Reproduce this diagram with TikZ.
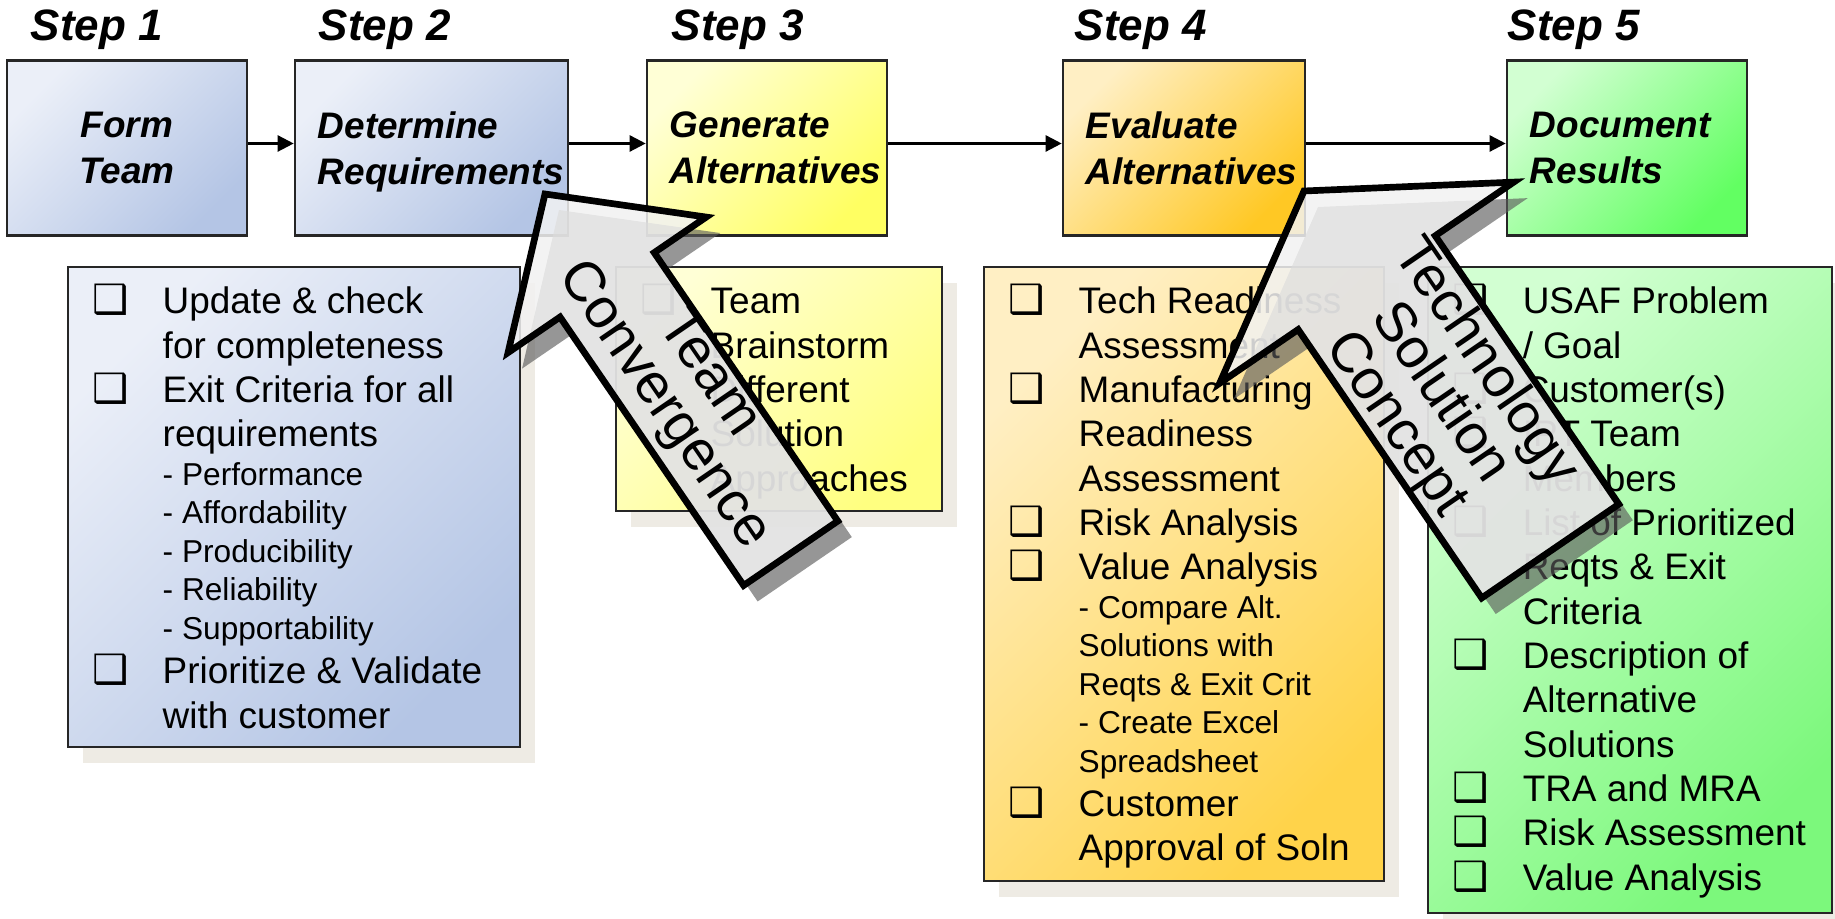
\documentclass[tikz,border=0pt]{standalone}
\usepackage{fontspec}
\setmainfont{Liberation Sans}
\newfontfamily\symfont{DejaVu Sans}
\usetikzlibrary{arrows.meta}
\hfuzz=40pt

\definecolor{blueA}{HTML}{EBEFF8}
\definecolor{blueB}{HTML}{B4C5E5}
\definecolor{yellowA}{HTML}{FFFFD6}
\definecolor{yellowB}{HTML}{FFFF62}
\definecolor{yellowC}{HTML}{FFFF80}
\definecolor{orangeA}{HTML}{FFEFC4}
\definecolor{orangeB}{HTML}{FFC824}
\definecolor{orangeC}{HTML}{FFD34A}
\definecolor{greenA}{HTML}{D2FFD2}
\definecolor{greenB}{HTML}{62FF62}
\definecolor{greenC}{HTML}{7CF87C}
\definecolor{shadowbeige}{HTML}{EEEBE4}

% list lines: check box, plain line, small line
\newcommand\listfont{\fontsize{10.5}{12.6}\selectfont}
\newcommand\subfont{\fontsize{9}{10.95}\selectfont}
\newcommand\chk{{\symfont\fontsize{11.5}{11.5}\selectfont ❑}}
\newcommand\chkline[1]{\par\leavevmode\makebox[0.7cm][l]{\chk}#1}
\newcommand\mline[1]{\par\leavevmode\hspace*{0.7cm}#1}
\newcommand\sline[1]{\par{\subfont\leavevmode\hspace*{0.7cm}#1\par}}

\tikzset{
  stepbox/.style={draw=black!85, line width=0.7pt, minimum height=1.75cm, inner sep=0pt,
    align=left, font=\bfseries\itshape\fontsize{10.5}{13}\selectfont},
  steplabel/.style={anchor=base west, inner sep=0pt, font=\bfseries\itshape\fontsize{12.5}{15}\selectfont},
  flow/.style={-{Triangle[length=1.6mm,width=1.6mm]}, line width=0.7pt},
  listbox/.style={draw=black!85, line width=0.7pt},
  listshadow/.style={fill=shadowbeige},
  listtext/.style={anchor=base west, inner sep=0pt, font=\listfont},
  arrowshadow/.style={fill=black!64, fill opacity=0.64},
  arrowbody/.style={draw=black, line width=1.9pt, fill=black!5, fill opacity=0.85},
  arrowtext/.style={rotate=-55.6, align=center, inner sep=0pt, font=\fontsize{16}{15.5}\selectfont},
  shadeblue/.style={top color=blueA, bottom color=blueB, shading angle=45},
  shadeyellow/.style={top color=yellowA, bottom color=yellowB, shading angle=45},
  shadeorange/.style={top color=orangeA, bottom color=orangeB, shading angle=45},
  shadegreen/.style={top color=greenA, bottom color=greenB, shading angle=45},
  listyellow/.style={top color=yellowA, bottom color=yellowC, shading angle=45},
  listorange/.style={top color=orangeA, bottom color=orangeC, shading angle=45},
  listgreen/.style={top color=greenA, bottom color=greenC, shading angle=45},
}

\begin{document}
\begin{tikzpicture}[x=0.01cm, y=-0.01cm]
\fill[white] (0,0) rectangle (1835,919);
\useasboundingbox (0,0) rectangle (1835,919);

% step titles
\node[steplabel] (s1) at (30,41) {Step 1};
\node[steplabel] (s2) at (318,41) {Step 2};
\node[steplabel] (s3) at (671,41) {Step 3};
\node[steplabel] (s4) at (1074,41) {Step 4};
\node[steplabel] (s5) at (1507,41) {Step 5};

% step boxes
\node[stepbox, shadeblue, minimum width=2.4cm, text width=2.4cm, align=center] (b1) at (127,148) {Form\\Team};
\node[stepbox, shadeblue, minimum width=2.73cm, text width=2.27cm] (b2) at (431.5,148) {Determine\\Re\smash{q}uirements};
\node[stepbox, shadeyellow, minimum width=2.4cm, text width=1.94cm] (b3) at (767,148) {Generate\\Alternatives};
\node[stepbox, shadeorange, minimum width=2.42cm, text width=1.96cm] (b4) at (1184,148) {Evaluate\\Alternatives};
\node[stepbox, shadegreen, minimum width=2.4cm, text width=1.94cm] (b5) at (1627,148) {Document\\Results};

\foreach \a/\b in {b1/b2, b2/b3, b3/b4, b4/b5}
  \draw[flow] ([yshift=0.45mm]\a.east) -- ([yshift=0.45mm]\b.west);

% task lists
\fill[listshadow] (83,283) rectangle (535,763);
\fill[listshadow] (631,283) rectangle (957,527);
\fill[listshadow] (999,283) rectangle (1399,897);
\fill[listshadow] (1443,283) rectangle (1835,919);
\draw[listbox, shadeblue] (68,267) rectangle (520,747);
\draw[listbox, listyellow] (616,267) rectangle (942,511);
\draw[listbox, listorange] (984,267) rectangle (1384,881);
\draw[listbox, listgreen] (1428,267) rectangle (1832,913);

\node[listtext] (req) at (92,314) {\parbox[t]{4.2cm}{%
  \chkline{Update \& check}
  \mline{for completeness}
  \chkline{Exit Criteria for all}
  \mline{requirements}
  \sline{- Performance}
  \sline{- Affordability}
  \sline{- Producibility}
  \sline{- Reliability}
  \sline{- Supportability}
  \chkline{Prioritize \& Validate}
  \mline{with customer}}};

\node[listtext] (gen) at (640,314) {\parbox[t]{4.2cm}{%
  \chkline{Team}
  \mline{Brainstorm}
  \mline{Different}
  \mline{Solution}
  \mline{Approaches}}};

\node[listtext] (eval) at (1008,314) {\parbox[t]{4.2cm}{%
  \chkline{Tech Readiness}
  \mline{Assessment}
  \chkline{Manufacturing}
  \mline{Readiness}
  \mline{Assessment}
  \chkline{Risk Analysis}
  \chkline{Value Analysis}
  \sline{- Compare Alt.}
  \sline{Solutions with}
  \sline{Reqts \& Exit Crit}
  \sline{- Create Excel}
  \sline{Spreadsheet}
  \chkline{Customer}
  \mline{Approval of Soln}}};

\node[listtext] (doc) at (1452,314) {\parbox[t]{4.2cm}{%
  \chkline{USAF Problem}
  \mline{/ Goal}
  \chkline{Customer(s)}
  \chkline{IPT Team}
  \mline{Members}
  \chkline{List of Prioritized}
  \mline{Reqts \& Exit}
  \mline{Criteria}
  \chkline{Description of}
  \mline{Alternative}
  \mline{Solutions}
  \chkline{TRA and MRA}
  \chkline{Risk Assessment}
  \chkline{Value Analysis}}};

% team convergence arrow
\begin{scope}[shift={(545,194)}, x={(0.00565cm,-0.00825cm)}, y={(0.00825cm,0.00565cm)}]
  \fill[arrowshadow, xshift=0.14cm, yshift=-0.16cm] (0,0) -- (110,120) -- (110,57) -- (435,57)
    -- (435,-57) -- (110,-57) -- (110,-120) -- cycle;
  \draw[arrowbody] (0,0) -- (110,120) -- (110,57) -- (435,57)
    -- (435,-57) -- (110,-57) -- (110,-120) -- cycle;
  \node[arrowtext] (conv) at (241,5) {Team\\Convergence};
\end{scope}

% technology solution arrow
\begin{scope}[shift={(1304,191)}, x={(0.00565cm,-0.00825cm)}, y={(0.00825cm,0.00565cm)}]
  \fill[arrowshadow, xshift=0.14cm, yshift=-0.16cm] (0,0) -- (111,178) -- (111,83) -- (436,83)
    -- (436,-83) -- (111,-83) -- (111,-178) -- cycle;
  \draw[arrowbody] (0,0) -- (111,178) -- (111,83) -- (436,83)
    -- (436,-83) -- (111,-83) -- (111,-178) -- cycle;
  \node[arrowtext] (tsc) at (244,-2) {Technology\\Solution\\Concept};
\end{scope}
\end{tikzpicture}
\end{document}
